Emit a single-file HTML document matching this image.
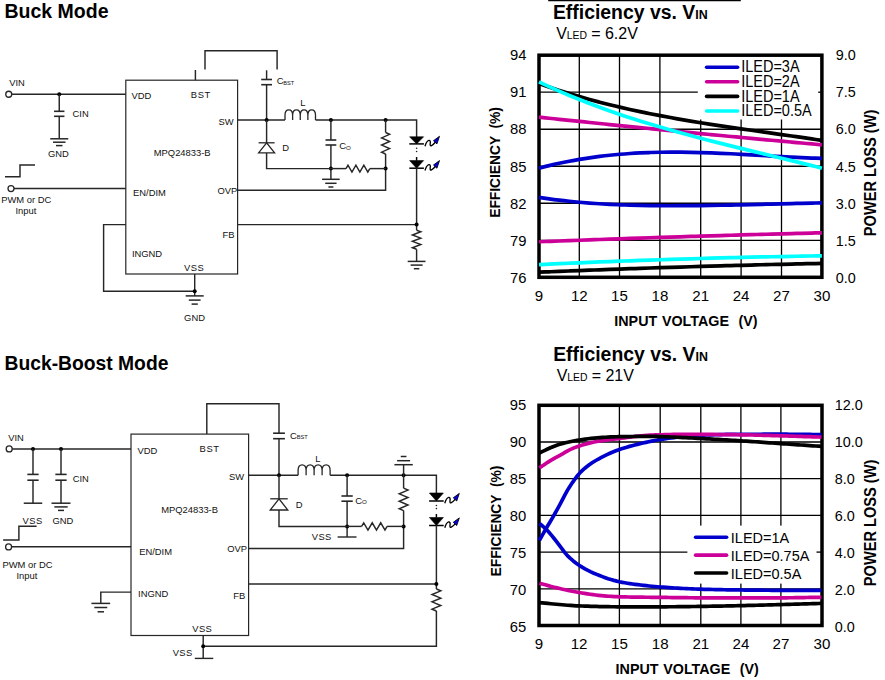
<!DOCTYPE html>
<html><head><meta charset="utf-8"><title>MPQ24833-B Application</title>
<style>
html,body{margin:0;padding:0;background:#fff;}
body{width:885px;height:680px;overflow:hidden;}
svg{display:block;font-family:"Liberation Sans", sans-serif;}
</style></head><body>
<svg width="885" height="680" viewBox="0 0 885 680">
<rect width="885" height="680" fill="#fff"/>
<text x="4.5" y="18.2" font-size="19.5" font-weight="bold" fill="#000">Buck Mode</text>
<text x="9.2" y="85.8" font-size="9.4" fill="#111">VIN</text>
<circle cx="8.75" cy="94.25" r="3" fill="#fff" stroke="#262626" stroke-width="1.3"/>
<path d="M11.75 94.25 L125.8 94.25" fill="none" stroke="#262626" stroke-width="1.45" stroke-linejoin="miter"/>
<circle cx="59.25" cy="94.25" r="2" fill="#000"/>
<path d="M59.25 94.25 L59.25 111.3" fill="none" stroke="#262626" stroke-width="1.45" stroke-linejoin="miter"/>
<path d="M54.05 111.3 L64.45 111.3" fill="none" stroke="#262626" stroke-width="1.6" stroke-linejoin="miter"/>
<path d="M54.05 116.3 L64.45 116.3" fill="none" stroke="#262626" stroke-width="1.6" stroke-linejoin="miter"/>
<path d="M59.25 116.3 L59.25 138.8" fill="none" stroke="#262626" stroke-width="1.45" stroke-linejoin="miter"/>
<path d="M50.25 138.8 L68.25 138.8" fill="none" stroke="#262626" stroke-width="1.5" stroke-linejoin="miter"/>
<path d="M53 142.2 L65.5 142.2" fill="none" stroke="#262626" stroke-width="1.5" stroke-linejoin="miter"/>
<path d="M56 145.6 L62.5 145.6" fill="none" stroke="#262626" stroke-width="1.5" stroke-linejoin="miter"/>
<text x="72.5" y="117" font-size="9.4" fill="#111">CIN</text>
<text x="48" y="157" font-size="9.4" fill="#111">GND</text>
<path d="M5 176.75 L20 176.75 L20 165 L35 165" fill="none" stroke="#262626" stroke-width="1.45" stroke-linejoin="miter"/>
<circle cx="11" cy="188.6" r="3" fill="#fff" stroke="#262626" stroke-width="1.3"/>
<path d="M14 188.5 L125.8 188.5" fill="none" stroke="#262626" stroke-width="1.45" stroke-linejoin="miter"/>
<text x="1.2" y="202.5" font-size="9.4" fill="#111">PWM or DC</text>
<text x="15.5" y="213.8" font-size="9.4" fill="#111">Input</text>
<rect x="125.8" y="80.2" width="111.8" height="193.8" fill="none" stroke="#262626" stroke-width="1.2"/>
<path d="M195.4 70 L195.4 80.2" fill="none" stroke="#262626" stroke-width="1.45" stroke-linejoin="miter"/>
<path d="M205 69.5 L205 50.8 L277.1 50.8 L277.1 69.5" fill="none" stroke="#262626" stroke-width="1.45" stroke-linejoin="miter"/>
<path d="M266.6 70.3 L266.6 79.5" fill="none" stroke="#262626" stroke-width="1.45" stroke-linejoin="miter"/>
<path d="M261.2 79.5 L272 79.5" fill="none" stroke="#262626" stroke-width="1.6" stroke-linejoin="miter"/>
<path d="M261.2 84.7 L272 84.7" fill="none" stroke="#262626" stroke-width="1.6" stroke-linejoin="miter"/>
<path d="M266.6 84.7 L266.6 120" fill="none" stroke="#262626" stroke-width="1.45" stroke-linejoin="miter"/>
<path d="M237.6 120 L285 120" fill="none" stroke="#262626" stroke-width="1.45" stroke-linejoin="miter"/>
<circle cx="266.6" cy="120" r="2" fill="#000"/>
<path d="M285 120 L285 115.23 C285 108.13 292.62 108.13 292.62 115.23 L292.62 120 L292.62 115.23 C292.62 108.13 300.25 108.13 300.25 115.23 L300.25 120 L300.25 115.23 C300.25 108.13 307.88 108.13 307.88 115.23 L307.88 120 L307.88 115.23 C307.88 108.13 315.5 108.13 315.5 115.23 L315.5 120" fill="none" stroke="#262626" stroke-width="1.3"/>
<path d="M315.5 120 L416.6 120 L416.6 137" fill="none" stroke="#262626" stroke-width="1.45" stroke-linejoin="miter"/>
<circle cx="330.9" cy="120" r="2" fill="#000"/>
<circle cx="385.6" cy="120" r="2" fill="#000"/>
<path d="M330.9 120 L330.9 140" fill="none" stroke="#262626" stroke-width="1.45" stroke-linejoin="miter"/>
<path d="M325.5 140 L336.3 140" fill="none" stroke="#262626" stroke-width="1.6" stroke-linejoin="miter"/>
<path d="M325.5 145 L336.3 145" fill="none" stroke="#262626" stroke-width="1.6" stroke-linejoin="miter"/>
<path d="M330.9 145 L330.9 179.3" fill="none" stroke="#262626" stroke-width="1.45" stroke-linejoin="miter"/>
<circle cx="330.9" cy="168.6" r="2" fill="#000"/>
<path d="M322.1 179.3 L339.7 179.3" fill="none" stroke="#262626" stroke-width="1.5" stroke-linejoin="miter"/>
<path d="M325.25 183.3 L336.55 183.3" fill="none" stroke="#262626" stroke-width="1.5" stroke-linejoin="miter"/>
<path d="M328.4 187 L333.4 187" fill="none" stroke="#262626" stroke-width="1.5" stroke-linejoin="miter"/>
<path d="M385.6 120 L385.6 132.5" fill="none" stroke="#262626" stroke-width="1.45" stroke-linejoin="miter"/>
<path d="M385.6 132.5 L389.6 134.29 L381.6 137.88 L389.6 141.46 L381.6 145.04 L389.6 148.62 L381.6 152.21 L385.6 154" fill="none" stroke="#262626" stroke-width="1.45" stroke-linejoin="miter"/>
<path d="M385.6 154 L385.6 190.3 L237.6 190.3" fill="none" stroke="#262626" stroke-width="1.45" stroke-linejoin="miter"/>
<circle cx="385.6" cy="168.6" r="2" fill="#000"/>
<path d="M346 168.6 L347.98 165.1 L351.95 172.1 L355.92 165.1 L359.88 172.1 L363.85 165.1 L367.82 172.1 L369.8 168.6" fill="none" stroke="#262626" stroke-width="1.45" stroke-linejoin="miter"/>
<path d="M330.9 168.6 L346 168.6" fill="none" stroke="#262626" stroke-width="1.45" stroke-linejoin="miter"/>
<path d="M369.8 168.6 L385.6 168.6" fill="none" stroke="#262626" stroke-width="1.45" stroke-linejoin="miter"/>
<path d="M266.6 120 L266.6 142.8" fill="none" stroke="#262626" stroke-width="1.45" stroke-linejoin="miter"/>
<path d="M258.6 142.8 L274.6 142.8" fill="none" stroke="#262626" stroke-width="1.3" stroke-linejoin="miter"/>
<path d="M266.6 142.8 L258.6 152.9 L274.6 152.9 Z" fill="none" stroke="#262626" stroke-width="1.3" stroke-linejoin="miter"/>
<path d="M266.6 152.9 L266.6 168.6 L330.9 168.6" fill="none" stroke="#262626" stroke-width="1.45" stroke-linejoin="miter"/>
<path d="M409.6 136.8 L423.6 136.8 L416.6 143.9 Z" fill="#000" stroke="#000" stroke-width="0.6" stroke-linejoin="round"/>
<path d="M409.3 143.9 L423.9 143.9" fill="none" stroke="#000" stroke-width="1.5" stroke-linejoin="miter"/>
<path d="M425 146.2 C427.2 138.7 431.2 139 430.2 143.6 C429.6 147.4 432.5 145.6 435.5 142" fill="none" stroke="#000" stroke-width="1.35"/>
<path d="M439.5 136.3 L433.5 140.7 L436.9 143.9 Z" fill="#0000ee" stroke="#000" stroke-width="0.9" stroke-linejoin="round"/>
<circle cx="416.6" cy="148.3" r="0.8" fill="#222"/>
<circle cx="416.6" cy="151.5" r="0.8" fill="#222"/>
<path d="M416.6 157 L416.6 160.7" fill="none" stroke="#000" stroke-width="1.45" stroke-linejoin="miter"/>
<path d="M409.6 160.6 L423.6 160.6 L416.6 168.2 Z" fill="#000" stroke="#000" stroke-width="0.6" stroke-linejoin="round"/>
<path d="M409.3 168.2 L423.9 168.2" fill="none" stroke="#000" stroke-width="1.5" stroke-linejoin="miter"/>
<path d="M425 170.5 C427.2 163 431.2 163.3 430.2 167.9 C429.6 171.7 432.5 169.9 435.5 166.3" fill="none" stroke="#000" stroke-width="1.35"/>
<path d="M439.5 160.6 L433.5 165 L436.9 168.2 Z" fill="#0000ee" stroke="#000" stroke-width="0.9" stroke-linejoin="round"/>
<path d="M416.6 168.2 L416.6 230.2" fill="none" stroke="#262626" stroke-width="1.45" stroke-linejoin="miter"/>
<path d="M416.6 230.2 L420.8 231.79 L412.4 234.97 L420.8 238.16 L412.4 241.34 L420.8 244.53 L412.4 247.71 L416.6 249.3" fill="none" stroke="#262626" stroke-width="1.45" stroke-linejoin="miter"/>
<path d="M416.6 249.3 L416.6 261.4" fill="none" stroke="#262626" stroke-width="1.45" stroke-linejoin="miter"/>
<path d="M407.7 261.4 L425.5 261.4" fill="none" stroke="#262626" stroke-width="1.5" stroke-linejoin="miter"/>
<path d="M410.6 265.1 L422.6 265.1" fill="none" stroke="#262626" stroke-width="1.5" stroke-linejoin="miter"/>
<path d="M413.85 268.7 L419.35 268.7" fill="none" stroke="#262626" stroke-width="1.5" stroke-linejoin="miter"/>
<path d="M237.6 224.6 L416.6 224.6" fill="none" stroke="#262626" stroke-width="1.45" stroke-linejoin="miter"/>
<circle cx="416.6" cy="224.6" r="2" fill="#000"/>
<path d="M125.8 224.6 L103.6 224.6 L103.6 291.2 L194.7 291.2" fill="none" stroke="#262626" stroke-width="1.45" stroke-linejoin="miter"/>
<path d="M194.7 274 L194.7 295.9" fill="none" stroke="#262626" stroke-width="1.45" stroke-linejoin="miter"/>
<circle cx="194.7" cy="291.2" r="2" fill="#000"/>
<path d="M185.7 295.9 L203.7 295.9" fill="none" stroke="#262626" stroke-width="1.5" stroke-linejoin="miter"/>
<path d="M188.8 300.1 L200.6 300.1" fill="none" stroke="#262626" stroke-width="1.5" stroke-linejoin="miter"/>
<path d="M191.6 304.1 L197.8 304.1" fill="none" stroke="#262626" stroke-width="1.5" stroke-linejoin="miter"/>
<text x="131.6" y="99.2" font-size="9.4" fill="#111">VDD</text>
<text x="190.8" y="97.6" font-size="9.4" fill="#111" letter-spacing="0.6">BST</text>
<text x="218.6" y="125.2" font-size="9.4" fill="#111">SW</text>
<text x="153.8" y="156.4" font-size="9.4" fill="#111">MPQ24833-B</text>
<text x="133" y="195.9" font-size="9.4" fill="#111">EN/DIM</text>
<text x="217.5" y="193.5" font-size="9.4" fill="#111">OVP</text>
<text x="222.5" y="238.2" font-size="9.4" fill="#111">FB</text>
<text x="131.9" y="257" font-size="9.4" fill="#111">INGND</text>
<text x="184.1" y="271.2" font-size="9.4" fill="#111" letter-spacing="0.4">VSS</text>
<text x="184.1" y="320.6" font-size="9.4" fill="#111">GND</text>
<text x="276.7" y="84.3" font-size="9.5" fill="#111">C</text>
<text x="283.3" y="84.6" font-size="5.6" fill="#111">BST</text>
<text x="300.2" y="106" font-size="9.4" fill="#111">L</text>
<text x="339.3" y="148.8" font-size="9.5" fill="#111">C</text>
<text x="346" y="149.5" font-size="6.2" fill="#111">O</text>
<text x="282.3" y="150.7" font-size="9.4" fill="#111">D</text>
<text x="4.5" y="370.3" font-size="19.3" font-weight="bold" fill="#000">Buck-Boost Mode</text>
<text x="8.2" y="440.7" font-size="9.4" fill="#111">VIN</text>
<circle cx="9.2" cy="448.9" r="3" fill="#fff" stroke="#262626" stroke-width="1.3"/>
<path d="M12.2 448.9 L131 448.9" fill="none" stroke="#262626" stroke-width="1.45" stroke-linejoin="miter"/>
<circle cx="33" cy="448.9" r="2" fill="#000"/>
<circle cx="61" cy="448.9" r="2" fill="#000"/>
<path d="M33 448.9 L33 474.4" fill="none" stroke="#262626" stroke-width="1.45" stroke-linejoin="miter"/>
<path d="M27.35 474.4 L38.65 474.4" fill="none" stroke="#262626" stroke-width="1.6" stroke-linejoin="miter"/>
<path d="M27.35 480.2 L38.65 480.2" fill="none" stroke="#262626" stroke-width="1.6" stroke-linejoin="miter"/>
<path d="M33 480.2 L33 503.2" fill="none" stroke="#262626" stroke-width="1.45" stroke-linejoin="miter"/>
<path d="M61 448.9 L61 474.4" fill="none" stroke="#262626" stroke-width="1.45" stroke-linejoin="miter"/>
<path d="M55.35 474.4 L66.65 474.4" fill="none" stroke="#262626" stroke-width="1.6" stroke-linejoin="miter"/>
<path d="M55.35 480.2 L66.65 480.2" fill="none" stroke="#262626" stroke-width="1.6" stroke-linejoin="miter"/>
<path d="M61 480.2 L61 503.2" fill="none" stroke="#262626" stroke-width="1.45" stroke-linejoin="miter"/>
<path d="M23.75 503.2 L42.25 503.2" fill="none" stroke="#262626" stroke-width="1.5" stroke-linejoin="miter"/>
<path d="M51.5 503.2 L70.5 503.2" fill="none" stroke="#262626" stroke-width="1.5" stroke-linejoin="miter"/>
<path d="M54.35 506.9 L67.65 506.9" fill="none" stroke="#262626" stroke-width="1.5" stroke-linejoin="miter"/>
<path d="M58 510.4 L64 510.4" fill="none" stroke="#262626" stroke-width="1.5" stroke-linejoin="miter"/>
<text x="72.7" y="481.6" font-size="9.4" fill="#111">CIN</text>
<text x="22.6" y="523.8" font-size="9.4" fill="#111" letter-spacing="0.4">VSS</text>
<text x="52.5" y="523.8" font-size="9.4" fill="#111">GND</text>
<path d="M3.1 539.9 L18.9 539.9 L18.9 526.3 L36.6 526.3" fill="none" stroke="#262626" stroke-width="1.45" stroke-linejoin="miter"/>
<circle cx="8.6" cy="546.9" r="3" fill="#fff" stroke="#262626" stroke-width="1.3"/>
<path d="M11.6 546.8 L131 546.8" fill="none" stroke="#262626" stroke-width="1.45" stroke-linejoin="miter"/>
<text x="2.5" y="568.1" font-size="9.4" fill="#111">PWM or DC</text>
<text x="16.5" y="578.8" font-size="9.4" fill="#111">Input</text>
<rect x="131" y="434.1" width="117.6" height="201.4" fill="none" stroke="#262626" stroke-width="1.2"/>
<path d="M206.8 434.1 L206.8 403.7 L279 403.7 L279 433.2" fill="none" stroke="#262626" stroke-width="1.45" stroke-linejoin="miter"/>
<path d="M273.1 433.2 L284.9 433.2" fill="none" stroke="#262626" stroke-width="1.6" stroke-linejoin="miter"/>
<path d="M273.1 438.7 L284.9 438.7" fill="none" stroke="#262626" stroke-width="1.6" stroke-linejoin="miter"/>
<path d="M279 438.7 L279 475.3" fill="none" stroke="#262626" stroke-width="1.45" stroke-linejoin="miter"/>
<path d="M248.6 475.3 L298.1 475.3" fill="none" stroke="#262626" stroke-width="1.45" stroke-linejoin="miter"/>
<circle cx="279" cy="475.3" r="2" fill="#000"/>
<path d="M298.1 475.3 L298.1 470.35 C298.1 462.98 306.1 462.98 306.1 470.35 L306.1 475.3 L306.1 470.35 C306.1 462.98 314.1 462.98 314.1 470.35 L314.1 475.3 L314.1 470.35 C314.1 462.98 322.1 462.98 322.1 470.35 L322.1 475.3 L322.1 470.35 C322.1 462.98 330.1 462.98 330.1 470.35 L330.1 475.3" fill="none" stroke="#262626" stroke-width="1.3"/>
<path d="M330.1 475.3 L436.4 475.3 L436.4 493" fill="none" stroke="#262626" stroke-width="1.45" stroke-linejoin="miter"/>
<circle cx="347.1" cy="475.3" r="2" fill="#000"/>
<circle cx="403.6" cy="475.3" r="2" fill="#000"/>
<path d="M347.1 475.3 L347.1 496" fill="none" stroke="#262626" stroke-width="1.45" stroke-linejoin="miter"/>
<path d="M341.45 496 L352.75 496" fill="none" stroke="#262626" stroke-width="1.6" stroke-linejoin="miter"/>
<path d="M341.45 501.2 L352.75 501.2" fill="none" stroke="#262626" stroke-width="1.6" stroke-linejoin="miter"/>
<path d="M347.1 501.2 L347.1 537" fill="none" stroke="#262626" stroke-width="1.45" stroke-linejoin="miter"/>
<circle cx="347.1" cy="526.4" r="2" fill="#000"/>
<path d="M337.6 537 L356.5 537" fill="none" stroke="#262626" stroke-width="1.4" stroke-linejoin="miter"/>
<path d="M403.6 464.7 L403.6 488.2" fill="none" stroke="#262626" stroke-width="1.45" stroke-linejoin="miter"/>
<path d="M394.4 464.7 L412.8 464.7" fill="none" stroke="#262626" stroke-width="1.5" stroke-linejoin="miter"/>
<path d="M397.1 460.7 L410.1 460.7" fill="none" stroke="#262626" stroke-width="1.5" stroke-linejoin="miter"/>
<path d="M400.75 456.5 L406.45 456.5" fill="none" stroke="#262626" stroke-width="1.5" stroke-linejoin="miter"/>
<path d="M403.6 488.2 L408 490.07 L399.2 493.8 L408 497.53 L399.2 501.27 L408 505 L399.2 508.73 L403.6 510.6" fill="none" stroke="#262626" stroke-width="1.45" stroke-linejoin="miter"/>
<path d="M403.6 510.6 L403.6 548.5 L248.6 548.5" fill="none" stroke="#262626" stroke-width="1.45" stroke-linejoin="miter"/>
<circle cx="403.6" cy="526.4" r="2" fill="#000"/>
<path d="M361.6 526.4 L363.73 522.8 L367.98 530 L372.23 522.8 L376.48 530 L380.73 522.8 L384.98 530 L387.1 526.4" fill="none" stroke="#262626" stroke-width="1.45" stroke-linejoin="miter"/>
<path d="M347.1 526.4 L361.6 526.4" fill="none" stroke="#262626" stroke-width="1.45" stroke-linejoin="miter"/>
<path d="M387.1 526.4 L403.6 526.4" fill="none" stroke="#262626" stroke-width="1.45" stroke-linejoin="miter"/>
<path d="M279 475.3 L279 498.8" fill="none" stroke="#262626" stroke-width="1.45" stroke-linejoin="miter"/>
<path d="M270.25 498.8 L287.75 498.8" fill="none" stroke="#262626" stroke-width="1.3" stroke-linejoin="miter"/>
<path d="M279 498.8 L270.25 510 L287.75 510 Z" fill="none" stroke="#262626" stroke-width="1.3" stroke-linejoin="miter"/>
<path d="M279 510 L279 526.4 L347.1 526.4" fill="none" stroke="#262626" stroke-width="1.45" stroke-linejoin="miter"/>
<path d="M429.4 493 L443.4 493 L436.4 501 Z" fill="#000" stroke="#000" stroke-width="0.6" stroke-linejoin="round"/>
<path d="M429.1 501 L443.7 501" fill="none" stroke="#000" stroke-width="1.5" stroke-linejoin="miter"/>
<path d="M444.8 503.3 C447 495.8 451 496.1 450 500.7 C449.4 504.5 452.3 502.7 455.3 499.1" fill="none" stroke="#000" stroke-width="1.35"/>
<path d="M459.3 493.4 L453.3 497.8 L456.7 501 Z" fill="#0000ee" stroke="#000" stroke-width="0.9" stroke-linejoin="round"/>
<circle cx="436.4" cy="505.5" r="0.8" fill="#222"/>
<circle cx="436.4" cy="508.6" r="0.8" fill="#222"/>
<path d="M436.4 514 L436.4 517.6" fill="none" stroke="#000" stroke-width="1.45" stroke-linejoin="miter"/>
<path d="M429.4 517.5 L443.4 517.5 L436.4 525.5 Z" fill="#000" stroke="#000" stroke-width="0.6" stroke-linejoin="round"/>
<path d="M429.1 525.5 L443.7 525.5" fill="none" stroke="#000" stroke-width="1.5" stroke-linejoin="miter"/>
<path d="M444.8 527.8 C447 520.3 451 520.6 450 525.2 C449.4 529 452.3 527.2 455.3 523.6" fill="none" stroke="#000" stroke-width="1.35"/>
<path d="M459.3 517.9 L453.3 522.3 L456.7 525.5 Z" fill="#0000ee" stroke="#000" stroke-width="0.9" stroke-linejoin="round"/>
<path d="M436.4 525.5 L436.4 589" fill="none" stroke="#262626" stroke-width="1.45" stroke-linejoin="miter"/>
<path d="M436.4 589 L440.8 590.83 L432 594.5 L440.8 598.17 L432 601.83 L440.8 605.5 L432 609.17 L436.4 611" fill="none" stroke="#262626" stroke-width="1.45" stroke-linejoin="miter"/>
<path d="M436.4 611 L436.4 646.3 L203.2 646.3" fill="none" stroke="#262626" stroke-width="1.45" stroke-linejoin="miter"/>
<path d="M248.6 584 L436.4 584" fill="none" stroke="#262626" stroke-width="1.45" stroke-linejoin="miter"/>
<circle cx="436.4" cy="584" r="2" fill="#000"/>
<path d="M131 592.1 L100.8 592.1 L100.8 603.4" fill="none" stroke="#262626" stroke-width="1.45" stroke-linejoin="miter"/>
<path d="M91.45 603.4 L110.15 603.4" fill="none" stroke="#262626" stroke-width="1.5" stroke-linejoin="miter"/>
<path d="M94.35 607.5 L107.25 607.5" fill="none" stroke="#262626" stroke-width="1.5" stroke-linejoin="miter"/>
<path d="M97.6 611.8 L104 611.8" fill="none" stroke="#262626" stroke-width="1.5" stroke-linejoin="miter"/>
<path d="M203.2 635.5 L203.2 658.4" fill="none" stroke="#262626" stroke-width="1.45" stroke-linejoin="miter"/>
<circle cx="203.2" cy="646.3" r="2" fill="#000"/>
<path d="M194.8 658.4 L213.3 658.4" fill="none" stroke="#262626" stroke-width="1.4" stroke-linejoin="miter"/>
<text x="137.5" y="453.7" font-size="9.4" fill="#111">VDD</text>
<text x="199.6" y="451.7" font-size="9.4" fill="#111" letter-spacing="0.6">BST</text>
<text x="229" y="480.4" font-size="9.4" fill="#111">SW</text>
<text x="161.2" y="512.7" font-size="9.4" fill="#111">MPQ24833-B</text>
<text x="139.2" y="554.9" font-size="9.4" fill="#111">EN/DIM</text>
<text x="227.3" y="551.9" font-size="9.4" fill="#111">OVP</text>
<text x="233.2" y="598.9" font-size="9.4" fill="#111">FB</text>
<text x="138.1" y="597.1" font-size="9.4" fill="#111">INGND</text>
<text x="192.3" y="631.7" font-size="9.4" fill="#111" letter-spacing="0.4">VSS</text>
<text x="172.7" y="655.9" font-size="9.4" fill="#111" letter-spacing="0.4">VSS</text>
<text x="311.8" y="540" font-size="9.4" fill="#111" letter-spacing="0.4">VSS</text>
<text x="290.1" y="438.8" font-size="9.5" fill="#111">C</text>
<text x="296.7" y="439.1" font-size="5.6" fill="#111">BST</text>
<text x="315.3" y="461.6" font-size="9.4" fill="#111">L</text>
<text x="355.3" y="503.5" font-size="9.5" fill="#111">C</text>
<text x="362" y="504.2" font-size="6.2" fill="#111">O</text>
<text x="295.8" y="507.8" font-size="9.4" fill="#111">D</text>
<line x1="548.2" y1="0.6" x2="740.8" y2="0.6" stroke="#000" stroke-width="1.2"/>
<text x="552.9" y="19.4" font-size="19.4" font-weight="bold" fill="#000">Efficiency vs. V</text>
<text x="695.2" y="19.4" font-size="12.4" font-weight="bold" fill="#000">IN</text>
<text x="556.2" y="39.3" font-size="16" fill="#000">V</text>
<text x="566.8" y="39.3" font-size="10.4" fill="#000">LED</text>
<text x="586.7" y="39.3" font-size="16" fill="#000" xml:space="preserve"> = 6.2V</text>
<clipPath id="c1"><rect x="539" y="55.2" width="282.9" height="222.1"/></clipPath>
<path d="M539 92.22 L697.8 92.22" fill="none" stroke="#000" stroke-width="1.3" stroke-linejoin="miter"/>
<path d="M818.2 92.22 L821.9 92.22" fill="none" stroke="#000" stroke-width="1.3" stroke-linejoin="miter"/>
<path d="M539 129.23 L821.9 129.23" fill="none" stroke="#000" stroke-width="1.3" stroke-linejoin="miter"/>
<path d="M539 166.25 L821.9 166.25" fill="none" stroke="#000" stroke-width="1.3" stroke-linejoin="miter"/>
<path d="M539 203.27 L821.9 203.27" fill="none" stroke="#000" stroke-width="1.3" stroke-linejoin="miter"/>
<path d="M539 240.28 L821.9 240.28" fill="none" stroke="#000" stroke-width="1.3" stroke-linejoin="miter"/>
<path d="M539 277.3 L821.9 277.3" fill="none" stroke="#000" stroke-width="1.3" stroke-linejoin="miter"/>
<path d="M579.3 55.2 L579.3 277.3" fill="none" stroke="#000" stroke-width="1.3" stroke-linejoin="miter"/>
<path d="M619.5 55.2 L619.5 277.3" fill="none" stroke="#000" stroke-width="1.3" stroke-linejoin="miter"/>
<path d="M659.9 55.2 L659.9 277.3" fill="none" stroke="#000" stroke-width="1.3" stroke-linejoin="miter"/>
<path d="M700.7 119.5 L700.7 277.3" fill="none" stroke="#000" stroke-width="1.3" stroke-linejoin="miter"/>
<path d="M741.1 119.5 L741.1 277.3" fill="none" stroke="#000" stroke-width="1.3" stroke-linejoin="miter"/>
<path d="M781.5 119.5 L781.5 277.3" fill="none" stroke="#000" stroke-width="1.3" stroke-linejoin="miter"/>
<rect x="539" y="55.2" width="282.9" height="222.1" fill="none" stroke="#000" stroke-width="3.5"/>
<path d="M539 272.22 C540.68 272.15 545.74 271.94 549.1 271.8 C552.47 271.66 555.84 271.52 559.21 271.39 C562.57 271.25 565.94 271.11 569.31 270.98 C572.68 270.85 576.05 270.71 579.41 270.58 C582.78 270.45 586.15 270.32 589.52 270.19 C592.89 270.06 596.25 269.94 599.62 269.81 C602.99 269.68 606.36 269.56 609.73 269.44 C613.09 269.31 616.46 269.19 619.83 269.07 C623.2 268.95 626.56 268.83 629.93 268.71 C633.3 268.59 636.67 268.48 640.04 268.36 C643.4 268.24 646.77 268.13 650.14 268.02 C653.51 267.9 656.88 267.79 660.24 267.68 C663.61 267.57 666.98 267.46 670.35 267.36 C673.71 267.25 677.08 267.14 680.45 267.04 C683.82 266.93 687.19 266.83 690.55 266.73 C693.92 266.62 697.29 266.52 700.66 266.42 C704.02 266.32 707.39 266.22 710.76 266.13 C714.13 266.03 717.5 265.94 720.86 265.84 C724.23 265.75 727.6 265.65 730.97 265.56 C734.34 265.47 737.7 265.38 741.07 265.29 C744.44 265.2 747.81 265.11 751.17 265.03 C754.54 264.94 757.91 264.86 761.28 264.77 C764.65 264.69 768.01 264.61 771.38 264.52 C774.75 264.44 778.12 264.36 781.49 264.28 C784.85 264.21 788.22 264.13 791.59 264.05 C794.96 263.98 798.32 263.9 801.69 263.83 C805.06 263.76 808.43 263.68 811.8 263.61 C815.16 263.54 820.22 263.44 821.9 263.41" fill="none" stroke="#000" stroke-width="3.7" stroke-linecap="butt"/>
<path d="M539 264.61 C540.68 264.53 545.74 264.29 549.1 264.14 C552.47 263.98 555.84 263.83 559.21 263.68 C562.57 263.53 565.94 263.38 569.31 263.23 C572.68 263.09 576.05 262.94 579.41 262.8 C582.78 262.66 586.15 262.52 589.52 262.38 C592.89 262.24 596.25 262.1 599.62 261.96 C602.99 261.83 606.36 261.7 609.73 261.56 C613.09 261.43 616.46 261.3 619.83 261.18 C623.2 261.05 626.56 260.92 629.93 260.8 C633.3 260.68 636.67 260.55 640.04 260.43 C643.4 260.31 646.77 260.2 650.14 260.08 C653.51 259.96 656.88 259.85 660.24 259.74 C663.61 259.63 666.98 259.52 670.35 259.41 C673.71 259.3 677.08 259.19 680.45 259.09 C683.82 258.98 687.19 258.88 690.55 258.78 C693.92 258.68 697.29 258.58 700.66 258.48 C704.02 258.39 707.39 258.29 710.76 258.2 C714.13 258.11 717.5 258.02 720.86 257.93 C724.23 257.84 727.6 257.75 730.97 257.66 C734.34 257.58 737.7 257.5 741.07 257.41 C744.44 257.33 747.81 257.25 751.17 257.18 C754.54 257.1 757.91 257.02 761.28 256.95 C764.65 256.87 768.01 256.8 771.38 256.73 C774.75 256.66 778.12 256.59 781.49 256.53 C784.85 256.46 788.22 256.4 791.59 256.34 C794.96 256.27 798.32 256.21 801.69 256.15 C805.06 256.1 808.43 256.04 811.8 255.98 C815.16 255.93 820.22 255.85 821.9 255.83" fill="none" stroke="#00ffff" stroke-width="3.7" stroke-linecap="butt"/>
<path d="M539 241.76 C540.68 241.69 545.74 241.5 549.1 241.37 C552.47 241.24 555.84 241.11 559.21 240.99 C562.57 240.86 565.94 240.73 569.31 240.61 C572.68 240.48 576.05 240.36 579.41 240.24 C582.78 240.11 586.15 239.99 589.52 239.87 C592.89 239.75 596.25 239.62 599.62 239.5 C602.99 239.38 606.36 239.26 609.73 239.15 C613.09 239.03 616.46 238.91 619.83 238.79 C623.2 238.68 626.56 238.56 629.93 238.44 C633.3 238.33 636.67 238.22 640.04 238.1 C643.4 237.99 646.77 237.88 650.14 237.76 C653.51 237.65 656.88 237.54 660.24 237.43 C663.61 237.32 666.98 237.21 670.35 237.1 C673.71 237 677.08 236.89 680.45 236.78 C683.82 236.67 687.19 236.57 690.55 236.46 C693.92 236.36 697.29 236.25 700.66 236.15 C704.02 236.05 707.39 235.94 710.76 235.84 C714.13 235.74 717.5 235.64 720.86 235.54 C724.23 235.44 727.6 235.34 730.97 235.24 C734.34 235.14 737.7 235.05 741.07 234.95 C744.44 234.85 747.81 234.76 751.17 234.66 C754.54 234.57 757.91 234.47 761.28 234.38 C764.65 234.29 768.01 234.19 771.38 234.1 C774.75 234.01 778.12 233.92 781.49 233.83 C784.85 233.74 788.22 233.65 791.59 233.56 C794.96 233.48 798.32 233.39 801.69 233.3 C805.06 233.22 808.43 233.13 811.8 233.04 C815.16 232.96 820.22 232.83 821.9 232.79" fill="none" stroke="#cc0099" stroke-width="3.7" stroke-linecap="butt"/>
<path d="M539 197.34 C540.68 197.59 545.74 198.37 549.1 198.83 C552.47 199.3 555.84 199.73 559.21 200.13 C562.57 200.54 565.94 200.91 569.31 201.26 C572.68 201.62 576.05 201.94 579.41 202.24 C582.78 202.54 586.15 202.81 589.52 203.06 C592.89 203.32 596.25 203.55 599.62 203.76 C602.99 203.97 606.36 204.15 609.73 204.32 C613.09 204.5 616.46 204.65 619.83 204.78 C623.2 204.92 626.56 205.03 629.93 205.14 C633.3 205.24 636.67 205.32 640.04 205.4 C643.4 205.47 646.77 205.53 650.14 205.58 C653.51 205.63 656.88 205.66 660.24 205.69 C663.61 205.71 666.98 205.72 670.35 205.73 C673.71 205.73 677.08 205.73 680.45 205.71 C683.82 205.7 687.19 205.68 690.55 205.65 C693.92 205.62 697.29 205.58 700.66 205.54 C704.02 205.5 707.39 205.45 710.76 205.4 C714.13 205.35 717.5 205.29 720.86 205.23 C724.23 205.16 727.6 205.1 730.97 205.03 C734.34 204.96 737.7 204.89 741.07 204.81 C744.44 204.74 747.81 204.66 751.17 204.58 C754.54 204.5 757.91 204.42 761.28 204.34 C764.65 204.26 768.01 204.18 771.38 204.09 C774.75 204.01 778.12 203.93 781.49 203.84 C784.85 203.76 788.22 203.68 791.59 203.59 C794.96 203.51 798.32 203.42 801.69 203.34 C805.06 203.26 808.43 203.18 811.8 203.1 C815.16 203.01 820.22 202.89 821.9 202.85" fill="none" stroke="#0000cc" stroke-width="3.7" stroke-linecap="butt"/>
<path d="M539 168.22 C540.68 167.79 545.74 166.45 549.1 165.64 C552.47 164.82 555.84 164.04 559.21 163.31 C562.57 162.58 565.94 161.89 569.31 161.23 C572.68 160.58 576.05 159.97 579.41 159.4 C582.78 158.83 586.15 158.29 589.52 157.8 C592.89 157.3 596.25 156.84 599.62 156.41 C602.99 155.99 606.36 155.6 609.73 155.25 C613.09 154.89 616.46 154.57 619.83 154.28 C623.2 153.99 626.56 153.74 629.93 153.51 C633.3 153.28 636.67 153.09 640.04 152.92 C643.4 152.75 646.77 152.61 650.14 152.5 C653.51 152.39 656.88 152.3 660.24 152.24 C663.61 152.18 666.98 152.14 670.35 152.12 C673.71 152.11 677.08 152.12 680.45 152.14 C683.82 152.17 687.19 152.22 690.55 152.28 C693.92 152.35 697.29 152.43 700.66 152.53 C704.02 152.63 707.39 152.74 710.76 152.87 C714.13 153 717.5 153.14 720.86 153.29 C724.23 153.44 727.6 153.6 730.97 153.77 C734.34 153.94 737.7 154.12 741.07 154.31 C744.44 154.49 747.81 154.68 751.17 154.87 C754.54 155.06 757.91 155.26 761.28 155.46 C764.65 155.65 768.01 155.85 771.38 156.05 C774.75 156.24 778.12 156.43 781.49 156.62 C784.85 156.8 788.22 156.99 791.59 157.16 C794.96 157.33 798.32 157.5 801.69 157.65 C805.06 157.8 808.43 157.94 811.8 158.07 C815.16 158.2 820.22 158.35 821.9 158.41" fill="none" stroke="#0000cc" stroke-width="3.7" stroke-linecap="butt"/>
<path d="M539 117.18 C540.68 117.36 545.74 117.89 549.1 118.25 C552.47 118.6 555.84 118.96 559.21 119.31 C562.57 119.67 565.94 120.02 569.31 120.37 C572.68 120.73 576.05 121.08 579.41 121.43 C582.78 121.78 586.15 122.12 589.52 122.47 C592.89 122.82 596.25 123.17 599.62 123.51 C602.99 123.86 606.36 124.2 609.73 124.55 C613.09 124.89 616.46 125.23 619.83 125.58 C623.2 125.92 626.56 126.26 629.93 126.6 C633.3 126.94 636.67 127.28 640.04 127.61 C643.4 127.95 646.77 128.29 650.14 128.62 C653.51 128.96 656.88 129.29 660.24 129.63 C663.61 129.96 666.98 130.29 670.35 130.62 C673.71 130.95 677.08 131.28 680.45 131.61 C683.82 131.94 687.19 132.27 690.55 132.6 C693.92 132.93 697.29 133.25 700.66 133.58 C704.02 133.9 707.39 134.23 710.76 134.55 C714.13 134.87 717.5 135.19 720.86 135.51 C724.23 135.84 727.6 136.16 730.97 136.47 C734.34 136.79 737.7 137.11 741.07 137.43 C744.44 137.74 747.81 138.06 751.17 138.38 C754.54 138.69 757.91 139 761.28 139.32 C764.65 139.63 768.01 139.94 771.38 140.25 C774.75 140.56 778.12 140.87 781.49 141.18 C784.85 141.49 788.22 141.8 791.59 142.1 C794.96 142.41 798.32 142.71 801.69 143.02 C805.06 143.32 808.43 143.63 811.8 143.93 C815.16 144.23 820.22 144.68 821.9 144.83" fill="none" stroke="#cc0099" stroke-width="3.7" stroke-linecap="butt"/>
<path d="M539 83.56 C540.68 84.15 545.74 85.95 549.1 87.1 C552.47 88.25 555.84 89.36 559.21 90.45 C562.57 91.54 565.94 92.6 569.31 93.63 C572.68 94.66 576.05 95.66 579.41 96.63 C582.78 97.61 586.15 98.56 589.52 99.48 C592.89 100.41 596.25 101.31 599.62 102.18 C602.99 103.06 606.36 103.91 609.73 104.74 C613.09 105.57 616.46 106.37 619.83 107.16 C623.2 107.94 626.56 108.71 629.93 109.45 C633.3 110.2 636.67 110.92 640.04 111.63 C643.4 112.34 646.77 113.03 650.14 113.7 C653.51 114.38 656.88 115.03 660.24 115.67 C663.61 116.31 666.98 116.94 670.35 117.55 C673.71 118.16 677.08 118.76 680.45 119.34 C683.82 119.93 687.19 120.5 690.55 121.06 C693.92 121.62 697.29 122.17 700.66 122.72 C704.02 123.26 707.39 123.79 710.76 124.31 C714.13 124.83 717.5 125.35 720.86 125.85 C724.23 126.36 727.6 126.86 730.97 127.36 C734.34 127.85 737.7 128.34 741.07 128.83 C744.44 129.31 747.81 129.79 751.17 130.27 C754.54 130.75 757.91 131.23 761.28 131.7 C764.65 132.18 768.01 132.65 771.38 133.13 C774.75 133.6 778.12 134.07 781.49 134.55 C784.85 135.02 788.22 135.5 791.59 135.98 C794.96 136.46 798.32 136.94 801.69 137.43 C805.06 137.92 808.43 138.41 811.8 138.91 C815.16 139.4 820.22 140.16 821.9 140.42" fill="none" stroke="#000" stroke-width="3.7" stroke-linecap="butt"/>
<path d="M539 81.94 C540.68 82.72 545.74 85.1 549.1 86.63 C552.47 88.16 555.84 89.65 559.21 91.12 C562.57 92.58 565.94 94.02 569.31 95.42 C572.68 96.82 576.05 98.19 579.41 99.54 C582.78 100.88 586.15 102.2 589.52 103.49 C592.89 104.78 596.25 106.04 599.62 107.27 C602.99 108.51 606.36 109.72 609.73 110.91 C613.09 112.09 616.46 113.26 619.83 114.4 C623.2 115.54 626.56 116.65 629.93 117.75 C633.3 118.85 636.67 119.92 640.04 120.98 C643.4 122.04 646.77 123.07 650.14 124.09 C653.51 125.11 656.88 126.11 660.24 127.1 C663.61 128.08 666.98 129.05 670.35 130.01 C673.71 130.96 677.08 131.9 680.45 132.83 C683.82 133.75 687.19 134.67 690.55 135.57 C693.92 136.47 697.29 137.36 700.66 138.24 C704.02 139.12 707.39 139.99 710.76 140.85 C714.13 141.71 717.5 142.56 720.86 143.4 C724.23 144.25 727.6 145.09 730.97 145.92 C734.34 146.75 737.7 147.58 741.07 148.4 C744.44 149.22 747.81 150.04 751.17 150.86 C754.54 151.68 757.91 152.49 761.28 153.3 C764.65 154.11 768.01 154.93 771.38 155.74 C774.75 156.55 778.12 157.36 781.49 158.18 C784.85 159 788.22 159.81 791.59 160.63 C794.96 161.46 798.32 162.28 801.69 163.11 C805.06 163.94 808.43 164.77 811.8 165.62 C815.16 166.46 820.22 167.74 821.9 168.17" fill="none" stroke="#00ffff" stroke-width="3.7" stroke-linecap="butt"/>
<line x1="706.6" y1="67.2" x2="737.6" y2="67.2" stroke="#0000cc" stroke-width="3.6" stroke-linecap="round"/>
<text transform="translate(741.2 72.3) scale(1 1.08)" font-size="14.5" fill="#000">ILED=3A</text>
<line x1="706.6" y1="81.8" x2="737.6" y2="81.8" stroke="#cc0099" stroke-width="3.6" stroke-linecap="round"/>
<text transform="translate(741.2 86.9) scale(1 1.08)" font-size="14.5" fill="#000">ILED=2A</text>
<line x1="706.6" y1="96.4" x2="737.6" y2="96.4" stroke="#000" stroke-width="3.6" stroke-linecap="round"/>
<text transform="translate(741.2 101.5) scale(1 1.08)" font-size="14.5" fill="#000">ILED=1A</text>
<line x1="706.6" y1="111" x2="737.6" y2="111" stroke="#00ffff" stroke-width="3.6" stroke-linecap="round"/>
<text transform="translate(741.2 116.1) scale(1 1.08)" font-size="14.5" fill="#000">ILED=0.5A</text>
<text x="526.4" y="59.9" font-size="14.8" text-anchor="end" fill="#000">94</text>
<text x="526.4" y="97.13" font-size="14.8" text-anchor="end" fill="#000">91</text>
<text x="526.4" y="134.36" font-size="14.8" text-anchor="end" fill="#000">88</text>
<text x="526.4" y="171.59" font-size="14.8" text-anchor="end" fill="#000">85</text>
<text x="526.4" y="208.82" font-size="14.8" text-anchor="end" fill="#000">82</text>
<text x="526.4" y="246.05" font-size="14.8" text-anchor="end" fill="#000">79</text>
<text x="526.4" y="283.28" font-size="14.8" text-anchor="end" fill="#000">76</text>
<text x="835.8" y="59.9" font-size="14.4" fill="#000">9.0</text>
<text x="835.8" y="97.13" font-size="14.4" fill="#000">7.5</text>
<text x="835.8" y="134.36" font-size="14.4" fill="#000">6.0</text>
<text x="835.8" y="171.59" font-size="14.4" fill="#000">4.5</text>
<text x="835.8" y="208.82" font-size="14.4" fill="#000">3.0</text>
<text x="835.8" y="246.05" font-size="14.4" fill="#000">1.5</text>
<text x="835.8" y="283.28" font-size="14.4" fill="#000">0.0</text>
<text x="539" y="300.7" font-size="15.1" text-anchor="middle" fill="#000">9</text>
<text x="579.3" y="300.7" font-size="15.1" text-anchor="middle" fill="#000">12</text>
<text x="619.5" y="300.7" font-size="15.1" text-anchor="middle" fill="#000">15</text>
<text x="659.9" y="300.7" font-size="15.1" text-anchor="middle" fill="#000">18</text>
<text x="700.7" y="300.7" font-size="15.1" text-anchor="middle" fill="#000">21</text>
<text x="741.1" y="300.7" font-size="15.1" text-anchor="middle" fill="#000">24</text>
<text x="781.5" y="300.7" font-size="15.1" text-anchor="middle" fill="#000">27</text>
<text x="821.9" y="300.7" font-size="15.1" text-anchor="middle" fill="#000">30</text>
<text x="614.3" y="326.3" font-size="14.3" font-weight="bold" fill="#000" xml:space="preserve" word-spacing="0.8">INPUT VOLTAGE  (V)</text>
<text transform="translate(500.2 217.8) rotate(-90) scale(1 1.05)" font-size="13.8" font-weight="bold" fill="#000" xml:space="preserve">EFFICIENCY  (%)</text>
<text transform="translate(876.2 236.2) rotate(-90) scale(1 1.12)" font-size="14.6" font-weight="bold" fill="#000">POWER LOSS (W)</text>
<text x="553.2" y="361.2" font-size="19.4" font-weight="bold" fill="#000">Efficiency vs. V</text>
<text x="695.5" y="361.2" font-size="12.4" font-weight="bold" fill="#000">IN</text>
<text x="556.7" y="381" font-size="16" fill="#000">V</text>
<text x="567.3" y="381" font-size="10.4" fill="#000">LED</text>
<text x="587.2" y="381" font-size="16" fill="#000" xml:space="preserve"> = 21V</text>
<clipPath id="c2"><rect x="539" y="405.3" width="283" height="220.2"/></clipPath>
<line x1="539" y1="442" x2="822" y2="442" stroke="#000" stroke-width="1.3"/>
<line x1="539" y1="478.7" x2="822" y2="478.7" stroke="#000" stroke-width="1.3"/>
<line x1="539" y1="515.4" x2="822" y2="515.4" stroke="#000" stroke-width="1.3"/>
<line x1="539" y1="552.1" x2="687.6" y2="552.1" stroke="#000" stroke-width="1.3"/>
<line x1="816.3" y1="552.1" x2="822" y2="552.1" stroke="#000" stroke-width="1.3"/>
<line x1="539" y1="588.8" x2="822" y2="588.8" stroke="#000" stroke-width="1.3"/>
<line x1="539" y1="625.5" x2="822" y2="625.5" stroke="#000" stroke-width="1.3"/>
<path d="M579.1 405.3 L579.1 625.5" fill="none" stroke="#000" stroke-width="1.3" stroke-linejoin="miter"/>
<path d="M619.4 405.3 L619.4 625.5" fill="none" stroke="#000" stroke-width="1.3" stroke-linejoin="miter"/>
<path d="M660.2 405.3 L660.2 625.5" fill="none" stroke="#000" stroke-width="1.3" stroke-linejoin="miter"/>
<path d="M700.8 405.3 L700.8 525.8" fill="none" stroke="#000" stroke-width="1.3" stroke-linejoin="miter"/>
<path d="M700.8 583.4 L700.8 625.5" fill="none" stroke="#000" stroke-width="1.3" stroke-linejoin="miter"/>
<path d="M740.9 405.3 L740.9 525.8" fill="none" stroke="#000" stroke-width="1.3" stroke-linejoin="miter"/>
<path d="M740.9 583.4 L740.9 625.5" fill="none" stroke="#000" stroke-width="1.3" stroke-linejoin="miter"/>
<path d="M780.9 405.3 L780.9 525.8" fill="none" stroke="#000" stroke-width="1.3" stroke-linejoin="miter"/>
<path d="M780.9 583.4 L780.9 625.5" fill="none" stroke="#000" stroke-width="1.3" stroke-linejoin="miter"/>
<rect x="539" y="405.3" width="283" height="220.2" fill="none" stroke="#000" stroke-width="3.5"/>
<path d="M539.4 602.7 L542.24 602.94 L545.07 603.19 L547.91 603.45 L550.74 603.72 L553.58 603.99 L556.41 604.26 L559.25 604.53 L562.09 604.78 L564.92 605.03 L567.76 605.25 L570.59 605.46 L573.43 605.63 L576.26 605.78 L579.1 605.9 L582.02 606 L584.94 606.1 L587.86 606.19 L590.79 606.29 L593.71 606.37 L596.63 606.45 L599.55 606.53 L602.47 606.59 L605.39 606.65 L608.31 606.7 L611.24 606.74 L614.16 606.77 L617.08 606.79 L620 606.8 L622.89 606.8 L625.77 606.8 L628.66 606.8 L631.54 606.8 L634.43 606.8 L637.31 606.8 L640.2 606.8 L643.09 606.8 L645.97 606.8 L648.86 606.8 L651.74 606.8 L654.63 606.8 L657.51 606.8 L660.4 606.8 L663.3 606.8 L666.2 606.79 L669.1 606.77 L672 606.75 L674.9 606.73 L677.8 606.7 L680.7 606.67 L683.6 606.63 L686.5 606.6 L689.4 606.56 L692.3 606.52 L695.2 606.48 L698.1 606.44 L701 606.4 L703.91 606.36 L706.83 606.32 L709.74 606.27 L712.66 606.22 L715.57 606.16 L718.49 606.11 L721.4 606.05 L724.31 605.99 L727.23 605.92 L730.14 605.86 L733.06 605.8 L735.97 605.73 L738.89 605.67 L741.8 605.6 L744.8 605.53 L747.8 605.46 L750.8 605.39 L753.8 605.32 L756.8 605.24 L759.8 605.16 L762.8 605.09 L765.8 605.01 L768.8 604.93 L771.8 604.85 L774.8 604.76 L777.8 604.68 L780.8 604.6 L783.7 604.52 L786.6 604.44 L789.5 604.35 L792.4 604.27 L795.3 604.18 L798.2 604.1 L801.1 604.01 L804 603.92 L806.9 603.84 L809.8 603.75 L812.7 603.66 L815.6 603.57 L818.5 603.49 L821.4 603.4" fill="none" stroke="#000" stroke-width="3.7" stroke-linejoin="round"/>
<path d="M539.4 583.2 L542.33 584 L545.27 584.81 L548.2 585.62 L551.13 586.42 L554.07 587.18 L557 587.9 L559.76 588.54 L562.52 589.18 L565.29 589.79 L568.05 590.39 L570.81 590.96 L573.58 591.5 L576.34 592.02 L579.1 592.5 L581.86 592.96 L584.62 593.41 L587.39 593.85 L590.15 594.27 L592.91 594.66 L595.68 595.02 L598.44 595.33 L601.2 595.6 L603.83 595.83 L606.46 596.05 L609.09 596.25 L611.71 596.43 L614.34 596.59 L616.97 596.71 L619.6 596.8 L622.51 596.87 L625.43 596.94 L628.34 596.99 L631.26 597.05 L634.17 597.09 L637.09 597.13 L640 597.17 L642.91 597.21 L645.83 597.24 L648.74 597.27 L651.66 597.3 L654.57 597.33 L657.49 597.37 L660.4 597.4 L663.3 597.44 L666.2 597.47 L669.1 597.51 L672 597.55 L674.9 597.59 L677.8 597.62 L680.7 597.66 L683.6 597.69 L686.5 597.72 L689.4 597.75 L692.3 597.77 L695.2 597.79 L698.1 597.8 L701 597.8 L703.91 597.8 L706.83 597.8 L709.74 597.8 L712.66 597.8 L715.57 597.8 L718.49 597.8 L721.4 597.8 L724.31 597.8 L727.23 597.8 L730.14 597.8 L733.06 597.8 L735.97 597.8 L738.89 597.8 L741.8 597.8 L744.8 597.8 L747.8 597.8 L750.8 597.8 L753.8 597.8 L756.8 597.8 L759.8 597.8 L762.8 597.8 L765.8 597.8 L768.8 597.8 L771.8 597.8 L774.8 597.8 L777.8 597.8 L780.8 597.8 L783.7 597.8 L786.6 597.78 L789.5 597.76 L792.4 597.73 L795.3 597.7 L798.2 597.66 L801.1 597.61 L804 597.57 L806.9 597.52 L809.8 597.47 L812.7 597.43 L815.6 597.38 L818.5 597.34 L821.4 597.3" fill="none" stroke="#cc0099" stroke-width="3.7" stroke-linejoin="round"/>
<path d="M539.4 523.5 L541.6 525.3 L543.8 527.11 L546 529.1 L548.7 531.97 L551.4 535.17 L554.1 538.5 L556.57 541.66 L559.03 544.96 L561.5 548.2 L564.45 552.1 L567.4 555.6 L570.33 558.41 L573.25 560.92 L576.17 563.17 L579.1 565.2 L582.04 567.07 L584.98 568.82 L587.92 570.42 L590.86 571.88 L593.8 573.2 L596.67 574.39 L599.53 575.54 L602.4 576.64 L605.27 577.68 L608.13 578.66 L611 579.57 L613.87 580.4 L616.73 581.14 L619.6 581.8 L622.17 582.32 L624.73 582.78 L627.3 583.21 L629.87 583.6 L632.43 583.96 L635 584.3 L637.82 584.66 L640.64 585.02 L643.47 585.35 L646.29 585.68 L649.11 585.98 L651.93 586.27 L654.76 586.54 L657.58 586.78 L660.4 587 L663.3 587.21 L666.2 587.42 L669.1 587.61 L672 587.8 L674.9 587.99 L677.8 588.16 L680.7 588.33 L683.6 588.48 L686.5 588.63 L689.4 588.77 L692.3 588.89 L695.2 589.01 L698.1 589.11 L701 589.2 L703.91 589.28 L706.83 589.36 L709.74 589.43 L712.66 589.5 L715.57 589.57 L718.49 589.63 L721.4 589.69 L724.31 589.75 L727.23 589.8 L730.14 589.84 L733.06 589.89 L735.97 589.93 L738.89 589.97 L741.8 590 L744.8 590.03 L747.8 590.07 L750.8 590.1 L753.8 590.13 L756.8 590.16 L759.8 590.19 L762.8 590.22 L765.8 590.24 L768.8 590.26 L771.8 590.28 L774.8 590.29 L777.8 590.3 L780.8 590.3 L783.7 590.3 L786.6 590.3 L789.5 590.3 L792.4 590.3 L795.3 590.3 L798.2 590.3 L801.1 590.3 L804 590.3 L806.9 590.3 L809.8 590.3 L812.7 590.3 L815.6 590.3 L818.5 590.3 L821.4 590.3" fill="none" stroke="#0000cc" stroke-width="3.7" stroke-linejoin="round"/>
<path d="M539.4 540.3 L542.35 535.07 L545.3 529.9 L547.73 525.78 L550.17 521.73 L552.6 517.6 L555.07 513.28 L557.53 508.89 L560 504.4 L562.47 499.68 L564.93 494.86 L567.4 490.4 L569.83 486.47 L572.27 482.81 L574.7 479.4 L577.65 475.48 L580.6 472.1 L583.48 469.41 L586.36 466.98 L589.24 464.79 L592.12 462.8 L595 461 L597.99 459.26 L600.98 457.62 L603.96 456.07 L606.95 454.62 L609.94 453.26 L612.92 451.98 L615.91 450.8 L618.9 449.7 L621.54 448.8 L624.17 447.95 L626.81 447.15 L629.45 446.4 L632.09 445.68 L634.73 445 L637.36 444.34 L640 443.7 L642.91 443.01 L645.83 442.35 L648.74 441.7 L651.66 441.09 L654.57 440.52 L657.49 439.98 L660.4 439.5 L663.13 439.08 L665.87 438.68 L668.6 438.29 L671.33 437.93 L674.07 437.58 L676.8 437.26 L679.53 436.95 L682.27 436.67 L685 436.4 L687.62 436.15 L690.23 435.92 L692.85 435.69 L695.47 435.49 L698.08 435.32 L700.7 435.2 L703.56 435.09 L706.41 434.99 L709.27 434.9 L712.13 434.81 L714.99 434.73 L717.84 434.65 L720.7 434.58 L723.56 434.52 L726.41 434.47 L729.27 434.42 L732.13 434.38 L734.99 434.34 L737.84 434.32 L740.7 434.3 L743.56 434.29 L746.43 434.28 L749.29 434.26 L752.16 434.25 L755.02 434.24 L757.89 434.24 L760.75 434.23 L763.61 434.22 L766.48 434.21 L769.34 434.21 L772.21 434.21 L775.07 434.2 L777.94 434.2 L780.8 434.2 L783.71 434.2 L786.61 434.22 L789.52 434.23 L792.43 434.26 L795.34 434.28 L798.24 434.32 L801.15 434.35 L804.06 434.39 L806.96 434.42 L809.87 434.46 L812.78 434.5 L815.69 434.54 L818.59 434.57 L821.5 434.6" fill="none" stroke="#0000cc" stroke-width="3.7" stroke-linejoin="round"/>
<path d="M539.4 467.9 L542.15 466.04 L544.9 464.17 L547.65 462.33 L550.4 460.6 L552.98 459.11 L555.55 457.7 L558.12 456.31 L560.7 454.9 L563.03 453.54 L565.35 452.13 L567.67 450.78 L570 449.6 L572.35 448.57 L574.7 447.63 L577.05 446.78 L579.4 446 L582.35 445.08 L585.3 444.21 L588.25 443.39 L591.2 442.63 L594.15 441.97 L597.1 441.4 L599.83 440.95 L602.55 440.55 L605.27 440.19 L608 439.85 L610.73 439.53 L613.45 439.22 L616.17 438.92 L618.9 438.6 L621.73 438.25 L624.55 437.89 L627.38 437.52 L630.21 437.15 L633.04 436.78 L635.86 436.43 L638.69 436.1 L641.52 435.81 L644.35 435.56 L647.17 435.35 L650 435.2 L652.92 435.08 L655.83 434.96 L658.75 434.85 L661.67 434.75 L664.58 434.65 L667.5 434.57 L670.42 434.49 L673.33 434.42 L676.25 434.37 L679.17 434.33 L682.08 434.31 L685 434.3 L687.93 434.3 L690.86 434.31 L693.79 434.32 L696.73 434.33 L699.66 434.35 L702.59 434.37 L705.52 434.39 L708.45 434.41 L711.38 434.44 L714.32 434.47 L717.25 434.5 L720.18 434.54 L723.11 434.57 L726.04 434.61 L728.97 434.64 L731.91 434.68 L734.84 434.72 L737.77 434.76 L740.7 434.8 L743.56 434.84 L746.43 434.89 L749.29 434.95 L752.16 435.01 L755.02 435.08 L757.89 435.15 L760.75 435.23 L763.61 435.31 L766.48 435.39 L769.34 435.47 L772.21 435.55 L775.07 435.64 L777.94 435.72 L780.8 435.8 L783.71 435.88 L786.61 435.97 L789.52 436.06 L792.43 436.15 L795.34 436.24 L798.24 436.33 L801.15 436.43 L804.06 436.53 L806.96 436.62 L809.87 436.72 L812.78 436.82 L815.69 436.91 L818.59 437.01 L821.5 437.1" fill="none" stroke="#cc0099" stroke-width="3.7" stroke-linejoin="round"/>
<path d="M539.4 453 L542.15 451.67 L544.9 450.32 L547.65 449.01 L550.4 447.8 L552.98 446.75 L555.55 445.75 L558.12 444.82 L560.7 444 L563.03 443.35 L565.35 442.75 L567.67 442.2 L570 441.7 L572.35 441.22 L574.7 440.78 L577.05 440.37 L579.4 440 L582.35 439.56 L585.3 439.13 L588.25 438.73 L591.2 438.37 L594.15 438.05 L597.1 437.8 L599.81 437.61 L602.52 437.42 L605.24 437.25 L607.95 437.1 L610.66 436.96 L613.38 436.85 L616.09 436.76 L618.8 436.7 L621.64 436.65 L624.47 436.61 L627.31 436.57 L630.15 436.53 L632.98 436.5 L635.82 436.47 L638.65 436.45 L641.49 436.43 L644.33 436.41 L647.16 436.4 L650 436.4 L653 436.42 L656 436.46 L659 436.54 L662 436.63 L665 436.74 L668 436.87 L671 437 L674 437.14 L677 437.27 L680 437.4 L682.96 437.53 L685.91 437.68 L688.87 437.83 L691.83 438 L694.79 438.17 L697.74 438.33 L700.7 438.5 L703.56 438.66 L706.41 438.81 L709.27 438.97 L712.13 439.13 L714.99 439.29 L717.84 439.45 L720.7 439.61 L723.56 439.77 L726.41 439.94 L729.27 440.1 L732.13 440.27 L734.99 440.45 L737.84 440.62 L740.7 440.8 L743.56 440.98 L746.43 441.17 L749.29 441.36 L752.16 441.56 L755.02 441.76 L757.89 441.96 L760.75 442.17 L763.61 442.37 L766.48 442.58 L769.34 442.79 L772.21 442.99 L775.07 443.2 L777.94 443.4 L780.8 443.6 L783.71 443.8 L786.61 444 L789.52 444.2 L792.43 444.4 L795.34 444.6 L798.24 444.8 L801.15 445 L804.06 445.2 L806.96 445.4 L809.87 445.6 L812.78 445.8 L815.69 446 L818.59 446.2 L821.5 446.4" fill="none" stroke="#000" stroke-width="3.7" stroke-linejoin="round"/>
<rect x="687.6" y="525.8" width="128.7" height="57.4" fill="#fff"/>
<line x1="695.6" y1="537.3" x2="726.6" y2="537.3" stroke="#0000cc" stroke-width="3.6" stroke-linecap="round"/>
<text transform="translate(730.8 543.1) scale(1 1.05)" font-size="14.5" fill="#000">ILED=1A</text>
<line x1="695.6" y1="555.15" x2="726.6" y2="555.15" stroke="#cc0099" stroke-width="3.6" stroke-linecap="round"/>
<text transform="translate(730.8 560.95) scale(1 1.05)" font-size="14.5" fill="#000">ILED=0.75A</text>
<line x1="695.6" y1="573" x2="726.6" y2="573" stroke="#000" stroke-width="3.6" stroke-linecap="round"/>
<text transform="translate(730.8 578.8) scale(1 1.05)" font-size="14.5" fill="#000">ILED=0.5A</text>
<text x="526.3" y="409.8" font-size="14.8" text-anchor="end" fill="#000">95</text>
<text x="526.3" y="446.8" font-size="14.8" text-anchor="end" fill="#000">90</text>
<text x="526.3" y="483.8" font-size="14.8" text-anchor="end" fill="#000">85</text>
<text x="526.3" y="520.8" font-size="14.8" text-anchor="end" fill="#000">80</text>
<text x="526.3" y="557.8" font-size="14.8" text-anchor="end" fill="#000">75</text>
<text x="526.3" y="594.8" font-size="14.8" text-anchor="end" fill="#000">70</text>
<text x="526.3" y="631.8" font-size="14.8" text-anchor="end" fill="#000">65</text>
<text x="834.7" y="409.8" font-size="14.4" fill="#000">12.0</text>
<text x="834.7" y="446.8" font-size="14.4" fill="#000">10.0</text>
<text x="834.7" y="483.8" font-size="14.4" fill="#000">8.0</text>
<text x="834.7" y="520.8" font-size="14.4" fill="#000">6.0</text>
<text x="834.7" y="557.8" font-size="14.4" fill="#000">4.0</text>
<text x="834.7" y="594.8" font-size="14.4" fill="#000">2.0</text>
<text x="834.7" y="631.8" font-size="14.4" fill="#000">0.0</text>
<text x="539" y="648.8" font-size="15.1" text-anchor="middle" fill="#000">9</text>
<text x="579.1" y="648.8" font-size="15.1" text-anchor="middle" fill="#000">12</text>
<text x="619.4" y="648.8" font-size="15.1" text-anchor="middle" fill="#000">15</text>
<text x="660.2" y="648.8" font-size="15.1" text-anchor="middle" fill="#000">18</text>
<text x="700.8" y="648.8" font-size="15.1" text-anchor="middle" fill="#000">21</text>
<text x="740.9" y="648.8" font-size="15.1" text-anchor="middle" fill="#000">24</text>
<text x="780.9" y="648.8" font-size="15.1" text-anchor="middle" fill="#000">27</text>
<text x="822" y="648.8" font-size="15.1" text-anchor="middle" fill="#000">30</text>
<text x="615.6" y="673.6" font-size="14.3" font-weight="bold" fill="#000" xml:space="preserve" word-spacing="0.8">INPUT VOLTAGE  (V)</text>
<text transform="translate(500.8 576.4) rotate(-90) scale(1 1.05)" font-size="13.8" font-weight="bold" fill="#000" xml:space="preserve">EFFICIENCY  (%)</text>
<text transform="translate(876.2 586.2) rotate(-90) scale(1 1.12)" font-size="14.6" font-weight="bold" fill="#000">POWER LOSS (W)</text>
</svg>
</body></html>
